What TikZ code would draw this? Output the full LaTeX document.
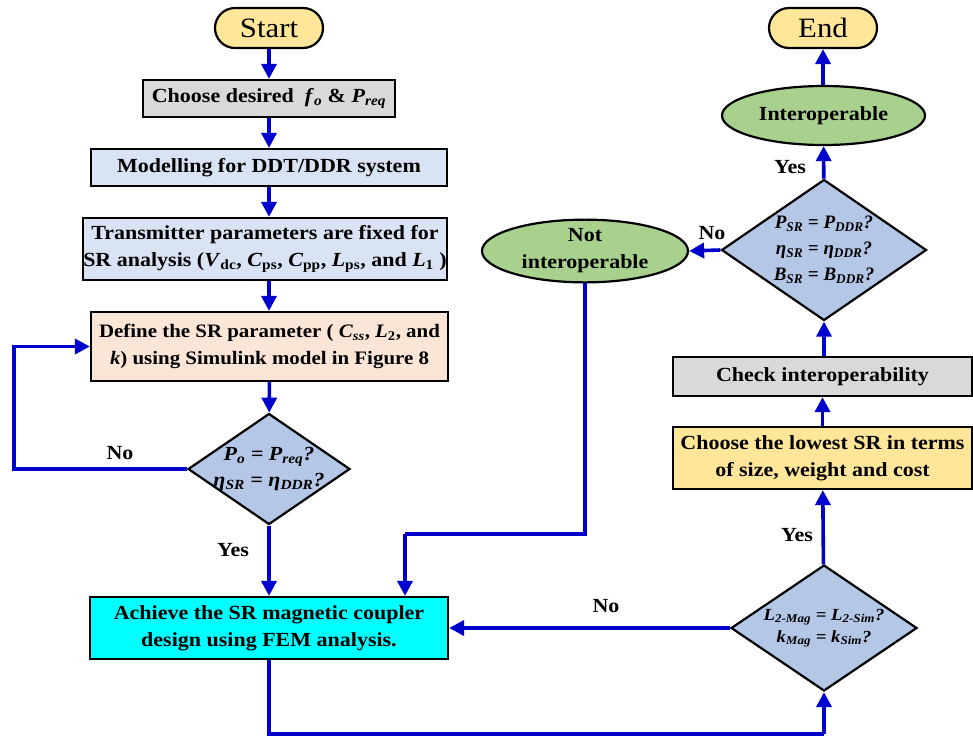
\documentclass[tikz,border=0pt]{standalone}
\usepackage{fontspec}
\setmainfont{Liberation Serif}[FakeStretch=1.1]
\newfontfamily\plainserif{Liberation Serif}
\usetikzlibrary{shapes.geometric,shapes.misc,arrows.meta}
\definecolor{flowblue}{RGB}{0,0,204}
\definecolor{gold}{RGB}{255,230,153}
\definecolor{greyfill}{RGB}{217,217,217}
\definecolor{paleblue}{RGB}{218,227,243}
\definecolor{peach}{RGB}{251,229,214}
\definecolor{dblue}{RGB}{180,199,231}
\definecolor{lgreen}{RGB}{169,209,142}
\definecolor{cyanfill}{RGB}{0,255,255}
\newcommand{\vi}[2]{\textit{#1}\textsubscript{\textit{#2}}}
\newcommand{\vu}[2]{\textit{#1}\textsubscript{#2}}
\begin{document}
\begin{tikzpicture}[x=1pt,y=-1pt,
  base/.style={draw=black,line width=2.2pt,inner sep=0pt,align=center,
    font=\fontsize{20}{27}\selectfont\bfseries},
  term/.style={base,rounded rectangle,fill=gold,minimum width=108pt,minimum height=40pt,
    font=\fontsize{28}{30}\selectfont},
  box/.style={base,rectangle},
  dec/.style={base,diamond,fill=dblue},
  dectext/.style={inner sep=0pt,align=center,font=\fontsize{20}{26}\selectfont\bfseries\itshape},
  oval/.style={base,ellipse,fill=lgreen},
  flow/.style={draw=flowblue,line width=3.6pt,-{Triangle[length=15pt,width=15pt]}},
  line/.style={draw=flowblue,line width=3.6pt},
  lab/.style={font=\fontsize{20}{22}\selectfont\bfseries,inner sep=0pt}]
\useasboundingbox (0,0) rectangle (973,737);

% left column
\node[term] (start) at (269,28) {Start};
\node[box,fill=greyfill,minimum width=252pt,minimum height=37pt] (choose) at (269,98.5)
  {Choose desired \ \vi{f}{o} \& \vi{P}{req}};
\node[box,fill=paleblue,minimum width=356pt,minimum height=37pt] (model) at (269,167.5)
  {Modelling for DDT/DDR system};
\node[box,fill=paleblue,minimum width=364pt,minimum height=62pt] (trans) at (265,249)
  {Transmitter parameters are fixed for\\SR analysis (\vu{V}{dc}, \vu{C}{ps}, \vu{C}{pp}, \vu{L}{ps}, and \vu{L}{1} )};
\node[box,fill=peach,minimum width=357pt,minimum height=69pt,
  font=\fontsize{19}{27}\selectfont\bfseries] (define) at (269.5,346.5)
  {Define the SR parameter ( \vi{C}{ss}, \vu{L}{2}, and\\\textit{k}) using Simulink model in Figure 8};
\node[dec,minimum width=162pt,minimum height=111pt,
  label={[dectext]center:{\vi{P}{o} = \vi{P}{req}?\\\vi{η}{SR} = \vi{η}{DDR}?}}] (d1) at (269,469) {};
\node[box,fill=cyanfill,minimum width=358pt,minimum height=62pt] (achieve) at (269,628)
  {Achieve the SR magnetic coupler\\design using FEM analysis.};

% right column
\node[term] (end) at (823,28) {End};
\node[oval,minimum width=203pt,minimum height=59pt] (interop) at (823.5,115.5) {Interoperable};
\node[dec,minimum width=205pt,minimum height=141pt,
  label={[dectext,font=\plainserif\fontsize{19}{26}\selectfont\bfseries\itshape]center:{\vi{P}{SR} = \vi{P}{DDR}?\\\vi{η}{SR} = \vi{η}{DDR}?\\\vi{B}{SR} = \vi{B}{DDR}?}}] (d2) at (824,250) {};
\node[oval,minimum width=206pt,minimum height=56pt] (notinter) at (585,251)
  {Not\\interoperable};
\node[box,fill=greyfill,minimum width=299pt,minimum height=39pt] (check) at (822.5,376.5)
  {Check interoperability};
\node[box,fill=gold,minimum width=299pt,minimum height=62pt] (lowest) at (822.5,458)
  {Choose the lowest SR in terms\\of size, weight and cost};
\node[dec,minimum width=186pt,minimum height=126pt,
  label={[dectext,font=\fontsize{17}{22}\selectfont\bfseries\itshape]center:{\vi{L}{2-Mag} = \vi{L}{2-Sim}?\\\vi{k}{Mag} = \vi{k}{Sim}?}}] (d3) at (824,628) {};

% corner coordinates
\coordinate (loopx) at (14,0);
\coordinate (boty) at (0,734);
\coordinate (midy) at (0,534);
\coordinate (dropx) at (405,0);

% connectors
\draw[flow] (start) -- (choose);
\draw[flow] (choose) -- (model);
\draw[flow] (model.south) -- (model.south |- trans.north);
\draw[flow] (trans.south -| model.south) -- (define.north -| model.south);
\draw[flow] (define) -- (d1);
\draw[flow] (d1) -- (achieve);
\draw[flow] (d1.west) -- (d1.west -| loopx) -- (loopx |- define.west) -- (define.west);
\draw[line] (achieve.south) -- (achieve.south |- boty) -- (boty -| d3.south);
\draw[flow] (boty -| d3.south) -- (d3.south);
\draw[flow] (d3.west) -- (d3.west -| achieve.east);
\draw[flow] (d3) -- (lowest);
\draw[flow] (lowest) -- (check);
\draw[flow] (check.north -| d2.south) -- (d2.south);
\draw[flow] (d2) -- (interop);
\draw[flow] (interop.north -| end.south) -- (end.south);
\draw[flow] (d2.west) -- (notinter.east);
\draw[line] (notinter.south) -- (notinter.south |- midy) -- (midy -| dropx);
\draw[flow] (midy -| dropx) -- (dropx |- achieve.north);

% labels
\node[lab] (lno1) at (120,453) {No};
\node[lab] (lyes1) at (233,550) {Yes};
\node[lab] (lno2) at (606,606) {No};
\node[lab] (lyes2) at (797,535) {Yes};
\node[lab] (lyes3) at (790,167) {Yes};
\node[lab] (lno3) at (712,233) {No};
\end{tikzpicture}
\end{document}
